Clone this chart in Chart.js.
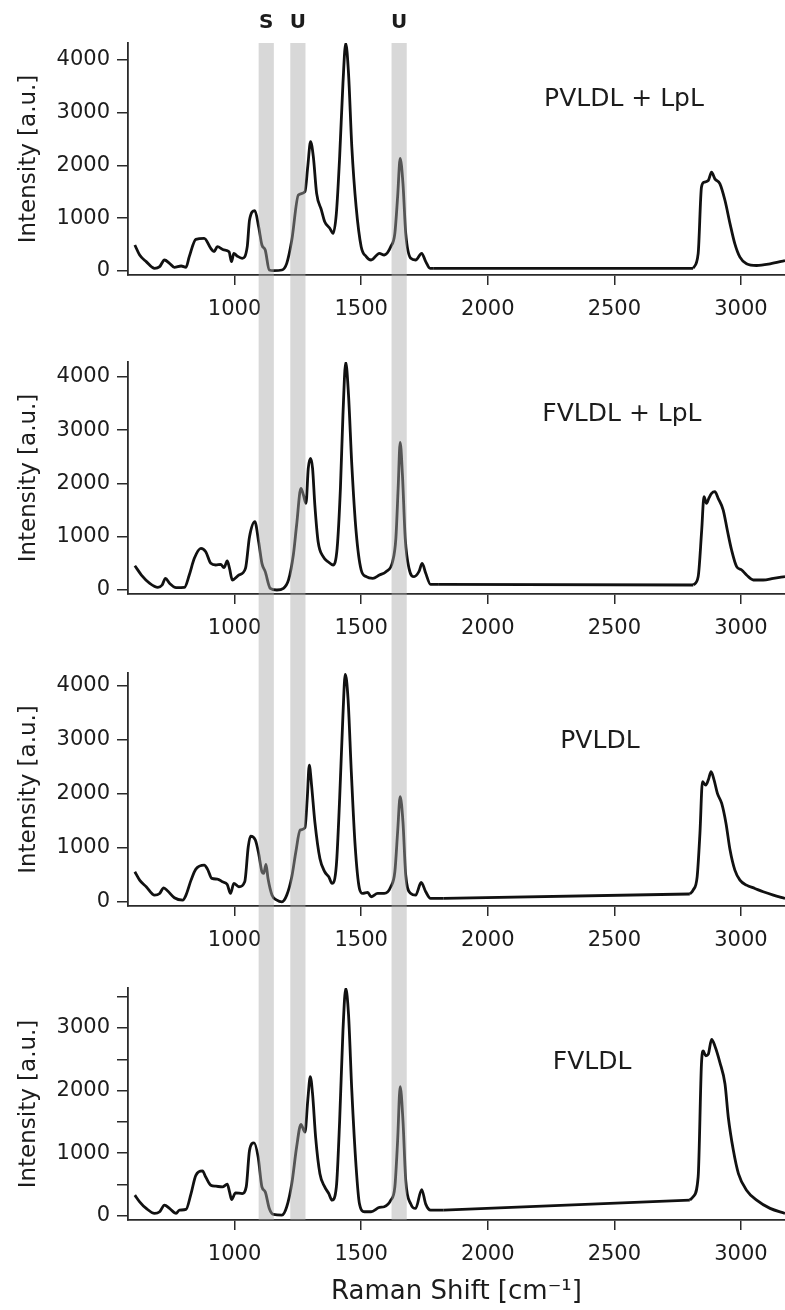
<!DOCTYPE html>
<html>
<head>
<meta charset="utf-8">
<title>Raman spectra — VLDL with and without LpL</title>
<script src="https://cdn.jsdelivr.net/npm/chart.js@4/dist/chart.umd.min.js"></script>
<style>
  html, body { margin: 0; padding: 0; background: #fff; }
  #figure { position: relative; width: 785px; height: 1310px; }
  .panel { position: absolute; left: 0; width: 785px; }
</style>
</head>
<body>
<div id="figure">
  <div class="panel" style="top:0;height:330px"><canvas id="p1"></canvas></div>
  <div class="panel" style="top:330px;height:320px"><canvas id="p2"></canvas></div>
  <div class="panel" style="top:650px;height:310px"><canvas id="p3"></canvas></div>
  <div class="panel" style="top:960px;height:350px"><canvas id="p4"></canvas></div>
</div>
<script>
"use strict";

// ── Data (Raman shift in cm-1, intensity in a.u.) ──
const pvldlLplShift = [606, 625, 651, 684, 704, 723, 743, 762, 789, 808, 821, 847, 880, 906, 919, 932, 958, 978, 988, 997, 1010, 1030, 1050, 1059, 1080, 1095, 1108, 1121, 1137, 1154, 1187, 1206, 1226, 1252, 1278, 1289, 1300, 1311, 1324, 1343, 1356, 1376, 1389, 1402, 1415, 1428, 1439, 1450, 1463, 1480, 1500, 1520, 1539, 1572, 1591, 1617, 1633, 1644, 1654, 1665, 1676, 1696, 1715, 1739, 1755, 1772, 1787, 2811, 2831, 2844, 2854, 2871, 2884, 2897, 2917, 2937, 2957, 2976, 2996, 3022, 3062, 3115, 3174];
const pvldlLplIntensity = [493, 303, 177, 50, 82, 208, 145, 70, 95, 70, 272, 600, 619, 430, 366, 461, 398, 366, 177, 335, 284, 240, 461, 967, 1143, 840, 493, 398, 19, 6, 19, 145, 587, 1440, 1504, 1977, 2451, 2167, 1472, 1156, 935, 809, 714, 1093, 2167, 3557, 4315, 3746, 2356, 1219, 461, 272, 208, 335, 303, 461, 714, 1409, 2135, 1661, 714, 240, 208, 335, 177, 50, 50, 50, 330, 1588, 1683, 1715, 1872, 1746, 1652, 1336, 894, 514, 262, 136, 104, 136, 199];

const fvldlLplShift = [606, 632, 665, 697, 714, 727, 743, 769, 802, 821, 841, 867, 886, 906, 926, 945, 958, 971, 980, 991, 1017, 1043, 1059, 1080, 1095, 1108, 1121, 1141, 1167, 1193, 1213, 1232, 1245, 1262, 1272, 1282, 1291, 1300, 1308, 1317, 1330, 1350, 1369, 1389, 1405, 1418, 1428, 1439, 1450, 1463, 1480, 1500, 1520, 1546, 1572, 1598, 1624, 1637, 1646, 1654, 1663, 1674, 1689, 1709, 1728, 1741, 1755, 1774, 1807, 2812, 2831, 2845, 2854, 2864, 2873, 2884, 2897, 2910, 2930, 2946, 2963, 2983, 3003, 3022, 3049, 3088, 3128, 3174];
const fvldlLplIntensity = [456, 281, 125, 50, 94, 219, 125, 44, 50, 281, 594, 781, 719, 500, 469, 481, 419, 544, 406, 188, 281, 406, 1000, 1281, 906, 500, 344, 31, 0, 31, 188, 656, 1219, 1906, 1781, 1625, 2281, 2469, 2281, 1594, 906, 625, 531, 469, 781, 1906, 3281, 4269, 3656, 2344, 1094, 375, 250, 219, 281, 344, 531, 969, 1906, 2769, 2156, 969, 406, 250, 344, 500, 313, 106, 106, 94, 250, 1125, 1750, 1625, 1719, 1813, 1844, 1719, 1500, 1125, 750, 438, 375, 281, 188, 188, 219, 250];

const pvldlShift = [606, 625, 651, 684, 704, 720, 736, 762, 795, 808, 828, 847, 880, 893, 910, 932, 952, 971, 984, 997, 1017, 1040, 1054, 1063, 1082, 1095, 1108, 1115, 1124, 1132, 1148, 1167, 1187, 1206, 1226, 1242, 1259, 1278, 1287, 1295, 1304, 1317, 1337, 1356, 1372, 1385, 1402, 1415, 1428, 1437, 1448, 1461, 1476, 1493, 1506, 1526, 1539, 1565, 1591, 1617, 1633, 1644, 1654, 1665, 1676, 1696, 1715, 1737, 1755, 1774, 1826, 2798, 2811, 2827, 2838, 2848, 2861, 2871, 2882, 2894, 2907, 2924, 2941, 2957, 2976, 2996, 3022, 3055, 3088, 3128, 3174];
const pvldlIntensity = [556, 401, 278, 123, 154, 259, 198, 74, 31, 123, 401, 605, 679, 605, 432, 420, 370, 321, 154, 340, 278, 370, 1019, 1216, 1142, 895, 556, 525, 691, 432, 123, 31, 0, 123, 463, 926, 1327, 1370, 1914, 2531, 2160, 1481, 802, 556, 463, 340, 679, 1914, 3457, 4210, 3765, 2407, 1049, 247, 154, 173, 93, 154, 154, 278, 556, 1296, 1944, 1481, 494, 154, 123, 358, 185, 62, 62, 144, 216, 463, 1266, 2222, 2160, 2253, 2407, 2253, 2006, 1821, 1451, 957, 586, 401, 309, 247, 185, 123, 62];

const fvldlShift = [606, 625, 651, 684, 704, 723, 743, 769, 782, 808, 828, 847, 873, 886, 906, 926, 952, 971, 980, 988, 1004, 1030, 1046, 1059, 1077, 1093, 1108, 1121, 1137, 1154, 1187, 1206, 1226, 1245, 1262, 1278, 1289, 1299, 1308, 1320, 1337, 1356, 1372, 1385, 1402, 1415, 1428, 1439, 1450, 1463, 1480, 1493, 1513, 1539, 1572, 1591, 1617, 1633, 1644, 1654, 1665, 1676, 1696, 1715, 1739, 1755, 1774, 1826, 2798, 2811, 2831, 2844, 2851, 2861, 2871, 2884, 2897, 2917, 2937, 2950, 2970, 2990, 3022, 3062, 3115, 3174];
const fvldlIntensity = [329, 223, 117, 37, 64, 170, 117, 37, 90, 101, 355, 647, 716, 620, 488, 472, 461, 504, 382, 260, 366, 355, 461, 1045, 1166, 938, 461, 382, 117, 21, 11, 143, 514, 1098, 1458, 1336, 1840, 2222, 1946, 1257, 673, 461, 355, 249, 461, 1522, 2953, 3632, 3218, 1999, 779, 196, 64, 64, 133, 143, 249, 461, 1204, 2063, 1522, 567, 186, 117, 419, 186, 90, 90, 250, 302, 620, 2423, 2634, 2555, 2582, 2820, 2714, 2448, 2105, 1574, 1045, 674, 409, 250, 118, 38];

// Tick values
const shiftTicks = [1000, 1500, 2000, 2500, 3000];
const intensityTicks = [0, 1000, 2000, 3000, 4000];
const intensityTicksFine = [0, 500, 1000, 1500, 2000, 2500, 3000, 3500];

// Shaded bands: saturated (S) and unsaturated (U) marker regions
const bandNames = ["S", "U", "U"];
const bandFrom = [1095, 1220, 1620];
const bandTo = [1155, 1280, 1680];

const panelNames = ["PVLDL + LpL", "FVLDL + LpL", "PVLDL", "FVLDL"];

// ── Look ───────────────────────────────────────────────────
const FONT = "'DejaVu Sans', sans-serif";
const INK = "#1c1c1c";
const AXIS = "#2a2a2a";
const $ = (id) => document.getElementById(id);

Chart.defaults.font.family = FONT;
Chart.defaults.color = INK;

// Per-panel layout: y range, where the plot box sits inside its canvas,
// and where the sample name goes (in data units).
const PANELS = [
  { id: "p1", shift: pvldlLplShift, intensity: pvldlLplIntensity, ticks: intensityTicks,
    yMin: -76, yMax: 4322, padTop: 43, axisHeight: 55, nameAt: [2538, 3242],
    bandTop: "chart", bandBottom: "canvas", showBandNames: true },
  { id: "p2", shift: fvldlLplShift, intensity: fvldlLplIntensity, ticks: intensityTicks,
    yMin: -75, yMax: 4277, padTop: 32, axisHeight: 56, nameAt: [2530, 3283],
    bandTop: "canvas", bandBottom: "canvas" },
  { id: "p3", shift: pvldlShift, intensity: pvldlIntensity, ticks: intensityTicks,
    yMin: -78, yMax: 4235, padTop: 23, axisHeight: 54, nameAt: [2443, 2976],
    bandTop: "canvas", bandBottom: "canvas" },
  { id: "p4", shift: fvldlShift, intensity: fvldlIntensity, ticks: intensityTicksFine,
    yMin: -68, yMax: 3640, padTop: 28, axisHeight: 90, nameAt: [2412, 2443],
    bandTop: "canvas", bandBottom: "chart" },
];

// ── Plugins ────────────────────────────────────────────────
/** Translucent grey bands laid over the trace, running through the whole figure. */
const bandsPlugin = {
  id: "bands",
  afterDatasetsDraw(chart, _args, opts) {
    const { ctx, chartArea, scales, height } = chart;
    const top = opts.top === "chart" ? chartArea.top : 0;
    const bottom = opts.bottom === "chart" ? chartArea.bottom : height;
    ctx.save();
    ctx.fillStyle = "rgba(168,168,168,0.45)";
    bandFrom.forEach((from, i) => {
      const x0 = scales.x.getPixelForValue(from);
      const x1 = scales.x.getPixelForValue(bandTo[i]);
      ctx.fillRect(x0, top, x1 - x0, bottom - top);
    });
    if (opts.showNames) {
      ctx.fillStyle = INK;
      ctx.font = `bold 20px ${FONT}`;
      ctx.textAlign = "center";
      ctx.textBaseline = "middle";
      bandNames.forEach((name, i) => {
        const x = scales.x.getPixelForValue((bandFrom[i] + bandTo[i]) / 2);
        ctx.fillText(name, x, chartArea.top - 20);
      });
    }
    ctx.restore();
  },
};

/** Sample name written inside the plot. */
const namePlugin = {
  id: "sampleName",
  afterDraw(chart, _args, opts) {
    if (!opts.text) return;
    const { ctx, scales } = chart;
    ctx.save();
    ctx.fillStyle = INK;
    ctx.font = `25px ${FONT}`;
    ctx.textAlign = "center";
    ctx.textBaseline = "middle";
    ctx.fillText(opts.text, scales.x.getPixelForValue(opts.at[0]), scales.y.getPixelForValue(opts.at[1]));
    ctx.restore();
  },
};

// ── Build the four stacked panels ──────────────────────────
/**
 * The spectra have no recorded points between ~1800 and ~2800 cm-1, so the
 * trace is split there: the two measured stretches are drawn smoothed, and the
 * empty stretch is joined by a plain straight line (no curve bending over it).
 */
function spectrumDatasets(shift, intensity) {
  const pts = shift.map((x, k) => ({ x, y: intensity[k] }));
  let gap = 0;
  for (let k = 1; k < shift.length; k++) {
    if (shift[k] - shift[k - 1] > shift[gap + 1] - shift[gap]) gap = k - 1;
  }
  const line = { borderColor: "#111", borderWidth: 2.8, pointRadius: 0, fill: false };
  return [
    { ...line, data: pts.slice(0, gap + 1), cubicInterpolationMode: "monotone" },
    { ...line, data: pts.slice(gap, gap + 2), tension: 0 },
    { ...line, data: pts.slice(gap + 1), cubicInterpolationMode: "monotone" },
  ];
}

function makePanel(p, i) {
  const isLast = i === PANELS.length - 1;

  return new Chart($(p.id), {
    type: "line",
    data: { datasets: spectrumDatasets(p.shift, p.intensity) },
    options: {
      responsive: true,
      maintainAspectRatio: false,
      animation: false,
      events: [],
      layout: { padding: { top: p.padTop, left: 0, right: 0, bottom: 0 } },
      scales: {
        x: {
          type: "linear",
          min: 579,
          max: 3174,
          afterBuildTicks: (s) => { s.ticks = shiftTicks.map((v) => ({ value: v })); },
          afterFit: (s) => { s.height = p.axisHeight; },
          border: { display: true, color: AXIS, width: 1.8 },
          grid: { drawOnChartArea: false, tickLength: 10, color: AXIS, lineWidth: 1.5 },
          ticks: {
            autoSkip: false, maxRotation: 0, padding: 12,
            font: { size: 21 }, color: INK,
            callback: (v) => String(v),
          },
          title: {
            display: isLast,
            text: "Raman Shift [cm⁻¹]",
            font: { size: 26 }, color: INK,
            padding: { top: 0, bottom: 2 },
          },
        },
        y: {
          min: p.yMin,
          max: p.yMax,
          afterBuildTicks: (s) => { s.ticks = p.ticks.map((v) => ({ value: v })); },
          afterFit: (s) => { s.width = 128; },
          border: { display: true, color: AXIS, width: 1.8 },
          grid: { drawOnChartArea: false, tickLength: 11, color: AXIS, lineWidth: 1.5 },
          ticks: {
            padding: 7, font: { size: 21 }, color: INK,
            // only the thousands carry a label; the 500s are bare ticks
            callback: (v) => (v % 1000 === 0 ? String(v) : ""),
          },
          title: {
            display: true,
            text: "Intensity [a.u.]",
            font: { size: 23 }, color: INK,
            padding: { top: 15, bottom: 0 },
          },
        },
      },
      plugins: {
        legend: { display: false },
        tooltip: { enabled: false },
        bands: { top: p.bandTop, bottom: p.bandBottom, showNames: !!p.showBandNames },
        sampleName: { text: panelNames[i], at: p.nameAt },
      },
    },
    plugins: [bandsPlugin, namePlugin],
  });
}

PANELS.forEach(makePanel);
</script>
</body>
</html>
